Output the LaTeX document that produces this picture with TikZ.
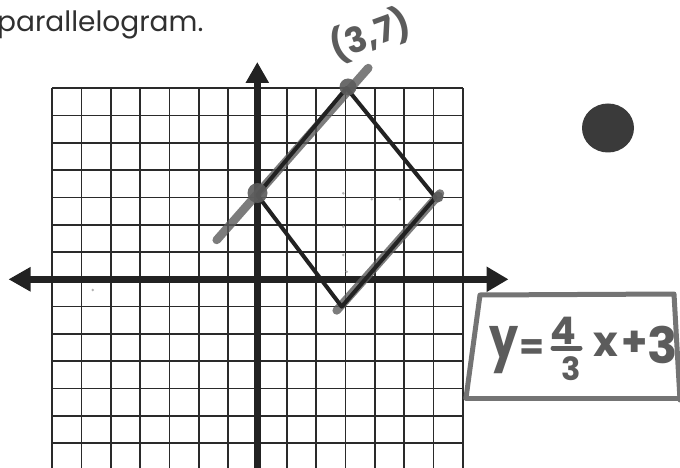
\documentclass[tikz,border=0pt]{standalone}
\usepackage{fontspec}
\setmainfont{Poppins}
\newfontfamily\printfont{Poppins}
\newfontfamily\handfont{Poppins}
\usetikzlibrary{arrows.meta}
\definecolor{ink}{HTML}{222222}
\definecolor{gridink}{HTML}{2A2A2A}
\definecolor{marker}{HTML}{5C5C5C}
\definecolor{printtext}{HTML}{303030}
\definecolor{blobcol}{HTML}{3A3A3A}
\tikzset{
  gridline/.style={draw=gridink, line width=1.7pt},
  axisline/.style={draw=ink, line width=6.5pt},
  edge/.style={draw=ink, line width=4pt, line cap=round, line join=round},
  markerline/.style={draw=marker, line width=8.5pt, line cap=round, opacity=0.8},
  markerbox/.style={draw=marker!85, line width=5pt, line cap=round, line join=round},
  markerdot/.style={fill=marker, opacity=0.9},
  speck/.style={fill=gray!60},
  handtext/.style={inner sep=0pt, text=marker, font=\handfont},
  printlabel/.style={inner sep=0pt, text=printtext, font=\printfont\fontsize{28}{28}\selectfont},
}
\begin{document}
\begin{tikzpicture}[x=1pt,y=-1pt]
\useasboundingbox (0,0) rectangle (680,468);
\fill[white] (0,0) rectangle (680,468);

% heading text
\node[printlabel, anchor=base west] (heading) at (-3,32) {parallelogram.};

% grid
\begin{scope}
\clip (0,0) rectangle (680,468);
\foreach \i in {0,...,14}
  \draw[gridline] ({52.3+\i*29.314},88.3) -- ({52.3+\i*29.314},470.3);
\foreach \j in {0,...,14}
  \draw[gridline] (52.3,{88.3+\j*27.286}) -- (462.7,{88.3+\j*27.286});
\end{scope}

% axes
\coordinate (xl) at (8.5,279.3);
\coordinate (xr) at (508.5,279.3);
\coordinate (yb) at (257.3,472);
\coordinate (yt) at (257.3,62);
\draw[axisline, {Triangle[length=22pt,width=23pt]}-{Triangle[length=22pt,width=24pt]}] (xl) -- (xr);
\draw[axisline, -{Triangle[length=21pt,width=22pt]}] (yb) -- (yt);

% faint pencil specks
\foreach \p in {(343.3,193.3),(371.7,199.3),(400,199.3),(343.3,226.7),(343.3,255),(346.7,271.7),(92.7,290)}
  \fill[speck] \p circle (1.4);

% vertices
\coordinate (L) at (257.3,195);
\coordinate (T) at (346.5,88);
\coordinate (R) at (435.5,197.5);
\coordinate (B) at (341.7,306.7);

% marker line y = 4/3 x + 3
\coordinate (m1) at (216.7,240);
\coordinate (m2) at (368.3,68);
\draw[markerline] (m1) -- (m2);
% marker along lower right edge
\coordinate (m3) at (336.7,310.5);
\coordinate (m4) at (440,193.5);
\draw[markerline] (m3) -- (m4);

% parallelogram edges
\draw[edge] (L) -- (T) -- (R) -- (B) -- cycle;

% marker dots at points
\fill[markerdot] (348,87) circle (8.5);
\fill[markerdot] (257.5,193) circle (10);
\fill[markerdot] (438,197) circle (5.5);

% label (3,7)
\node[handtext, font=\handfont\bfseries\fontsize{35}{35}\selectfont, rotate=20] (lab) at (370,35) {(3,7)};

% black blob
\fill[blobcol] (608,128) ellipse [x radius=26, y radius=24.5];

% box around equation
\coordinate (b1) at (466,398);
\coordinate (b2) at (480,295);
\coordinate (b3) at (674,294);
\coordinate (b4) at (680,400);
\coordinate (b5) at (682,398);
\draw[markerbox] (b1) -- (b2) -- (b3) -- (b4);
\draw[markerbox] (b1) -- (b5);

% equation y = 4/3 x + 3
\node[handtext, font=\handfont\fontsize{46}{46}\selectfont\bfseries, anchor=base, yscale=1.25] (ey) at (504,358) {y};
\node[handtext, font=\handfont\bfseries\fontsize{36}{36}\selectfont] (eq) at (532,350) {=};
\node[handtext, font=\handfont\bfseries\fontsize{38}{38}\selectfont] (n4) at (563,331) {4};
\coordinate (f1) at (553,348);
\coordinate (f2) at (580,348);
\draw[marker, line width=5pt, line cap=round] (f1) -- (f2);
\node[handtext, font=\handfont\bfseries\fontsize{32}{32}\selectfont] (d3) at (571,369) {3};
\node[handtext, font=\handfont\bfseries\fontsize{42}{42}\selectfont] (ex) at (606,345) {x};
\node[handtext, font=\handfont\bfseries\fontsize{42}{42}\selectfont] (pl) at (635,344) {+};
\node[handtext, font=\handfont\bfseries\fontsize{50}{50}\selectfont] (t3) at (663,345) {3};
\end{tikzpicture}
\end{document}
